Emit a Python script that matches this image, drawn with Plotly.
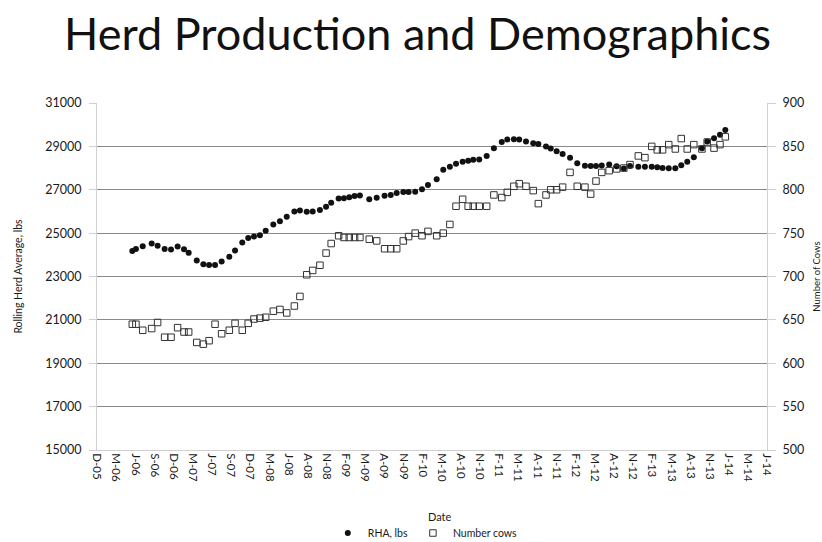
import pandas as pd
import plotly.graph_objects as go

# ---- data ----
base_date = "2005-12-14"
test_day = [166, 183, 215, 257, 285, 318, 348, 379, 409, 431,
            469, 500, 527, 555, 586, 622, 649, 683, 711, 738,
            766, 793, 829, 860, 892, 928, 954, 986, 1014, 1048,
            1077, 1101, 1136, 1161, 1186, 1211, 1236, 1280, 1315, 1352,
            1381, 1409, 1440, 1465, 1496, 1528, 1556, 1597, 1628, 1659,
            1688, 1719, 1745, 1769, 1797, 1832, 1866, 1903, 1929, 1960,
            1985, 2017, 2051, 2075, 2111, 2133, 2161, 2189, 2224, 2258,
            2294, 2321, 2346, 2373, 2408, 2443, 2477, 2506, 2545, 2576,
            2608, 2634, 2659, 2688, 2719, 2747, 2775, 2806, 2844, 2869,
            2901, 2929, 2954]

rha_lbs = [24180, 24270, 24400, 24520, 24420, 24270, 24240, 24380, 24260, 24090,
           23740, 23570, 23530, 23530, 23690, 23910, 24200, 24570, 24770, 24840,
           24900, 25110, 25400, 25550, 25760, 26000, 26040, 25980, 26000, 26070,
           26220, 26400, 26600, 26610, 26650, 26710, 26740, 26560, 26630, 26720,
           26760, 26850, 26900, 26900, 26910, 27020, 27220, 27480, 27920, 28060,
           28200, 28290, 28340, 28380, 28400, 28560, 28910, 29200, 29320, 29330,
           29320, 29220, 29140, 29110, 29000, 28900, 28780, 28650, 28470, 28220,
           28110, 28100, 28100, 28120, 28170, 28080, 27980, 28090, 28060, 28060,
           28060, 28040, 28000, 27990, 27990, 28130, 28290, 28500, 28910, 29220,
           29380, 29540, 29760]

number_cows = [645, 645, 638, 640, 647, 630, 630, 641, 636, 636,
               624, 622, 626, 645, 634, 638, 646, 638, 646, 651,
               652, 653, 660, 662, 658, 666, 677, 702, 707, 713,
               727, 738, 747, 745, 745, 745, 745, 743, 741, 732,
               732, 732, 741, 746, 750, 747, 752, 747, 750, 760,
               781, 789, 781, 781, 781, 781, 794, 791, 797, 804,
               807, 804, 799, 784, 794, 800, 800, 803, 820, 804,
               803, 795, 810, 820, 822, 824, 825, 829, 839, 837,
               850, 846, 846, 852, 847, 859, 847, 852, 847, 855,
               848, 852, 861]

tick_labels = ["D-05", "M-06", "J-06", "S-06", "D-06", "M-07", "J-07", "S-07",
               "D-07", "M-08", "J-08", "A-08", "N-08", "F-09", "M-09", "A-09",
               "N-09", "F-10", "M-10", "A-10", "N-10", "F-11", "M-11", "A-11",
               "N-11", "F-12", "M-12", "A-12", "N-12", "F-13", "M-13", "A-13",
               "N-13", "J-14", "M-14", "J-14"]
tick_step_days = 90

# ---- build ----
base = pd.Timestamp(base_date)
dates = base + pd.to_timedelta(test_day, unit="D")
tick_vals = [base + pd.Timedelta(days=tick_step_days * i) for i in range(len(tick_labels))]

FONT = "Lato"
TXT = "#1a1a1a"
fig = go.Figure()
fig.add_trace(go.Scatter(
    x=dates, y=rha_lbs, name="RHA, lbs", mode="markers",
    marker=dict(symbol="circle", size=6, color="#111111"),
    yaxis="y"))
fig.add_trace(go.Scatter(
    x=dates, y=number_cows, name="Number cows", mode="markers",
    marker=dict(symbol="square-open", size=6.5, color="#333333",
                line=dict(width=1, color="#333333")),
    yaxis="y2"))

fig.update_layout(
    width=822, height=542,
    margin=dict(l=97, r=55, t=103, b=92, autoexpand=False),
    paper_bgcolor="white", plot_bgcolor="white",
    font=dict(family=FONT, color=TXT),
    title=dict(text="Herd Production and Demographics",
               font=dict(family=FONT, size=45, color="#111111"),
               x=0.508, xanchor="center", y=0.936, yanchor="middle"),
    xaxis=dict(
        type="date", automargin=False,
        range=[tick_vals[0], tick_vals[-1]],
        tickmode="array", tickvals=tick_vals, ticktext=tick_labels,
        tickangle=90, tickfont=dict(size=11.5, color=TXT),
        showgrid=False, showline=True, linecolor="#d0d0d0", linewidth=1,
        ticks="", zeroline=False),
    yaxis=dict(
        automargin=False,
        range=[15000, 31000], dtick=2000, tick0=15000, tickformat="d",
        tickfont=dict(size=12.5, color=TXT),
        showgrid=True, gridcolor="#8a8a8a", gridwidth=1.3,
        showline=True, linecolor="#d0d0d0", linewidth=1,
        ticks="outside", ticklen=7, tickcolor="#d0d0d0", ticklabelstandoff=5,
        zeroline=False,
        title=dict(text="Rolling Herd Average, lbs", font=dict(size=10.5, color=TXT),
                   standoff=20)),
    yaxis2=dict(
        automargin=False,
        range=[500, 900], dtick=50, tick0=500, tickformat="d",
        overlaying="y", side="right",
        tickfont=dict(size=12.5, color=TXT),
        showgrid=False,
        showline=True, linecolor="#d0d0d0", linewidth=1,
        ticks="outside", ticklen=8, tickcolor="#d0d0d0", ticklabelstandoff=4,
        zeroline=False,
        title=dict(text="Number of Cows", font=dict(size=9.5, color=TXT),
                   standoff=12)),
    legend=dict(orientation="h", x=0.49, xanchor="center",
                yref="container", y=1 - 533 / 542, yanchor="middle",
                font=dict(size=10.5, color=TXT), itemwidth=30,
                tracegroupgap=0),
    showlegend=True,
)
fig.add_annotation(text="Date", xref="paper", yref="paper", x=0.512, y=-0.193,
                   showarrow=False, font=dict(size=11, color=TXT),
                   xanchor="center", yanchor="middle")

fig.write_html("out.html")
